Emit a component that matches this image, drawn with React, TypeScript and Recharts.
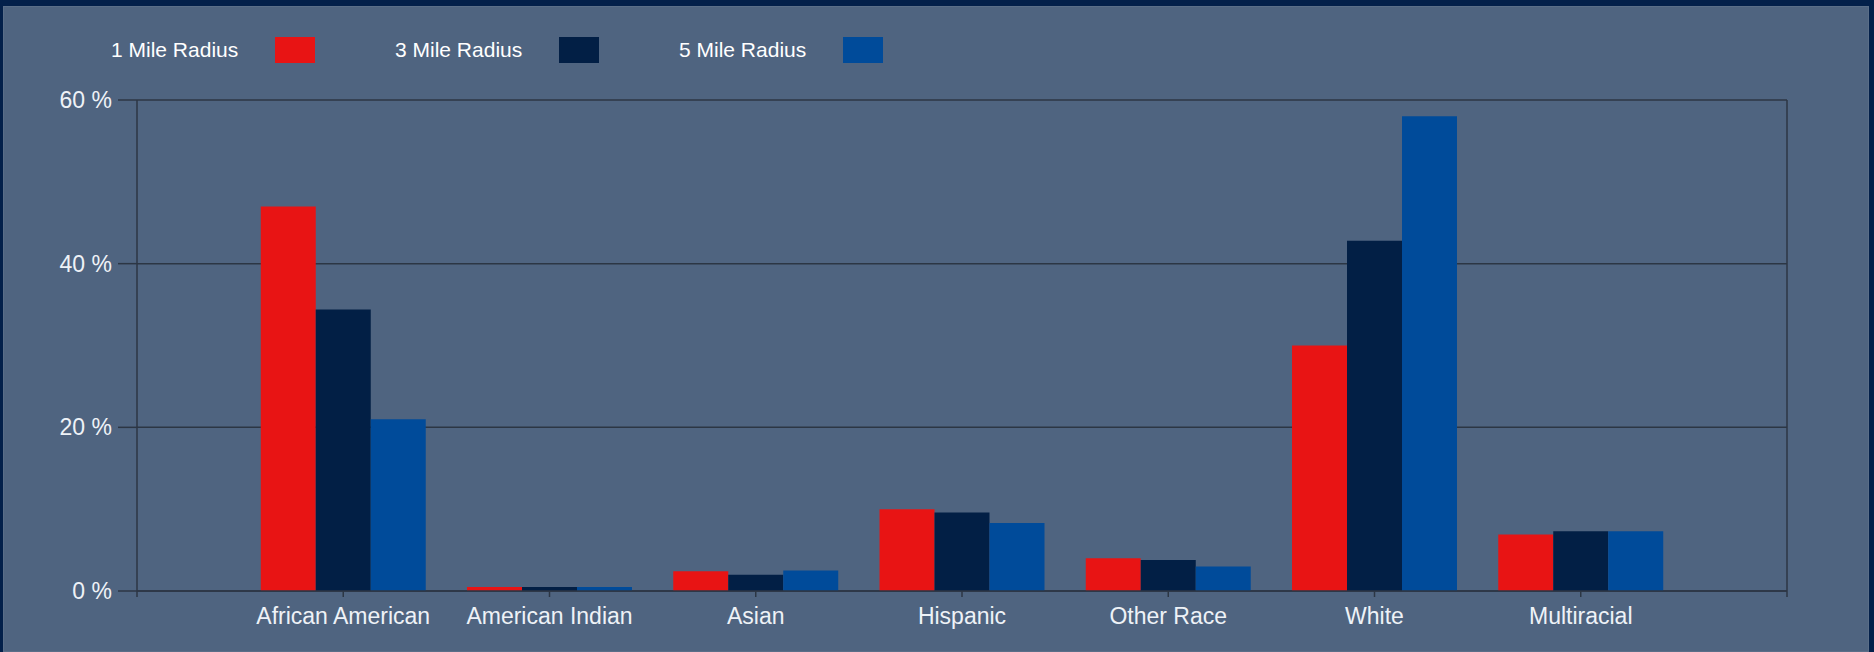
import React from "react";
import { BarChart, Bar, XAxis, YAxis, CartesianGrid } from "recharts";

const categories = [
  "African American",
  "American Indian",
  "Asian",
  "Hispanic",
  "Other Race",
  "White",
  "Multiracial",
];
const oneMile = [47.0, 0.5, 2.4, 10.0, 4.0, 30.0, 6.9];
const threeMile = [34.4, 0.5, 2.0, 9.6, 3.8, 42.8, 7.3];
const fiveMile = [21.0, 0.5, 2.5, 8.3, 3.0, 58.0, 7.3];
const yTicks = [0, 20, 40, 60];
const seriesNames = ["1 Mile Radius", "3 Mile Radius", "5 Mile Radius"];
const seriesColors = ["#e81414", "#021f45", "#004b9a"];

const data = categories.map((name, i) => ({
  pos: i + 1,
  name,
  one: oneMile[i],
  three: threeMile[i],
  five: fiveMile[i],
}));
const xTicks = Array.from({ length: categories.length + 2 }, (_, i) => i);

const W = 1874;
const H = 652;
const AXIS = "#2c3644";
const TEXT = "#eef2f7";
const FONT = "'Liberation Sans', Arial, sans-serif";

export default function App() {
  return (
    <div
      style={{
        position: "fixed",
        left: 0,
        top: 0,
        width: W,
        height: H,
        background: "#03204a",
        overflow: "hidden",
        fontFamily: FONT,
      }}
    >
      <div
        style={{
          position: "absolute",
          left: 3,
          top: 6,
          width: W - 8,
          height: H - 6,
          background: "#4f6480",
          boxShadow: "inset 0 0 0 1px #5a6e88",
        }}
      />
      <div style={{ position: "absolute", left: 0, top: 0 }}>
        <BarChart
          width={W}
          height={H}
          data={data}
          margin={{ top: 100, right: 0, bottom: 0, left: 0 }}
          barCategoryGap="10%"
          barGap={0}
        >
          <CartesianGrid
            vertical={false}
            stroke={AXIS}
            strokeWidth={1.5}
            yAxisId="left"
          />
          <XAxis
            dataKey="pos"
            type="number"
            domain={[0, categories.length + 1]}
            ticks={xTicks}
            interval={0}
            tickFormatter={(v: number) => categories[v - 1] ?? ""}
            height={61}
            tickSize={6}
            tickMargin={11}
            stroke={AXIS}
            strokeWidth={1.5}
            tick={{ fill: TEXT, fontSize: 23, fontFamily: FONT }}
            allowDecimals={false}
          />
          <YAxis
            yAxisId="left"
            domain={[0, 60]}
            ticks={yTicks}
            width={137}
            tickSize={19}
            tickMargin={6}
            tickFormatter={(v: number) => `${v} %`}
            stroke={AXIS}
            strokeWidth={1.5}
            tick={{ fill: TEXT, fontSize: 23, fontFamily: FONT }}
          />
          <YAxis
            yAxisId="right"
            orientation="right"
            domain={[0, 60]}
            ticks={yTicks}
            width={87}
            tick={false}
            tickLine={false}
            stroke={AXIS}
            strokeWidth={1.5}
          />
          <Bar yAxisId="left" dataKey="one" name={seriesNames[0]} fill={seriesColors[0]} isAnimationActive={false} />
          <Bar yAxisId="left" dataKey="three" name={seriesNames[1]} fill={seriesColors[1]} isAnimationActive={false} />
          <Bar yAxisId="left" dataKey="five" name={seriesNames[2]} fill={seriesColors[2]} isAnimationActive={false} />
        </BarChart>
      </div>
      <div
        style={{
          position: "absolute",
          left: 111,
          top: 37,
          height: 26,
          display: "flex",
          alignItems: "center",
        }}
      >
        {seriesNames.map((n, i) => (
          <div
            key={n}
            style={{ display: "flex", alignItems: "center", width: 284 }}
          >
            <span style={{ color: "#ffffff", fontSize: 21, lineHeight: "26px", whiteSpace: "nowrap" }}>{n}</span>
            <span
              style={{
                display: "inline-block",
                width: 40,
                height: 26,
                marginLeft: 37,
                background: seriesColors[i],
              }}
            />
          </div>
        ))}
      </div>
    </div>
  );
}
